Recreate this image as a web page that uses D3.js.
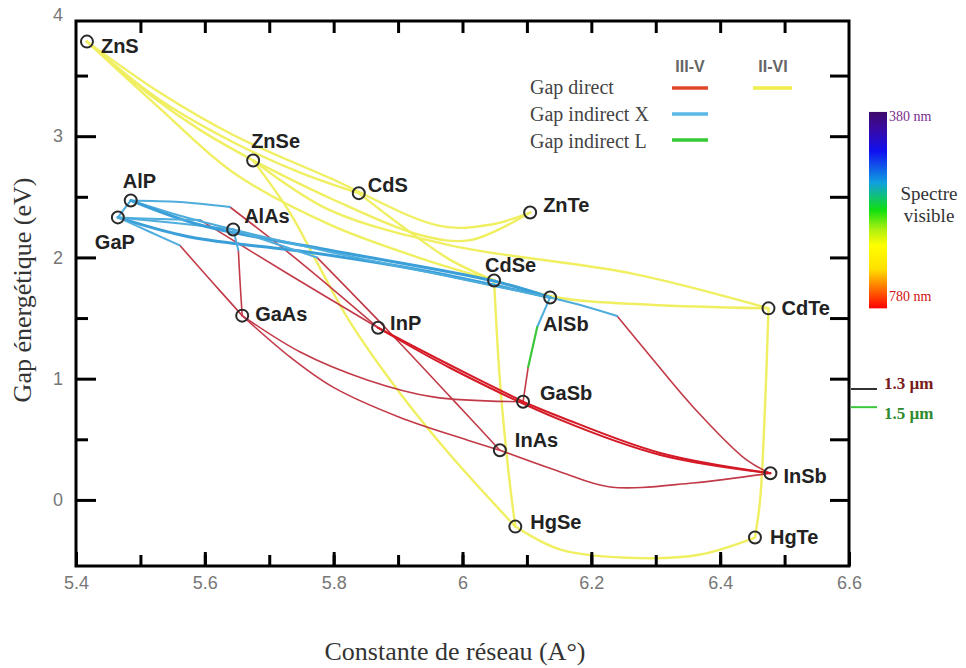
<!DOCTYPE html>
<html>
<head>
<meta charset="utf-8">
<script src="https://cdn.jsdelivr.net/npm/d3@7"></script>
<style>
body { margin: 0; background: #fff; }
</style>
</head>
<body>
<div id="chart"></div>
<script>
// composes : nom, constante de reseau (A), gap (eV)
var compounds = ['ZnS', 'ZnSe', 'CdS', 'ZnTe', 'CdSe', 'AlSb', 'CdTe', 'AlP', 'GaP', 'AlAs', 'GaAs', 'InP', 'GaSb', 'InAs', 'InSb', 'HgSe', 'HgTe'];
var lattice = [5.417, 5.675, 5.839, 6.105, 6.049, 6.136, 6.475, 5.485, 5.465, 5.644, 5.658, 5.869, 6.094, 6.058, 6.478, 6.082, 6.454];
var gap = [3.78, 2.80, 2.53, 2.37, 1.81, 1.67, 1.58, 2.47, 2.33, 2.23, 1.52, 1.42, 0.81, 0.41, 0.22, -0.22, -0.31];

// courbes II-VI (jaune)
var curvesIIVI = [
    [[5.417, 3.78], [5.515, 3.34], [5.593, 3.05], [5.675, 2.80]],
    [[5.417, 3.78], [5.530, 3.36], [5.644, 3.01], [5.794, 2.655], [5.965, 2.26], [6.043, 2.27], [6.105, 2.37]],
    [[5.417, 3.78], [5.530, 3.30], [5.644, 2.95], [5.748, 2.70], [5.839, 2.53]],
    [[5.417, 3.78], [5.530, 3.23], [5.644, 2.70], [5.794, 2.27], [5.934, 1.995], [6.049, 1.81]],
    [[5.675, 2.80], [5.794, 2.49], [5.934, 2.185], [6.012, 2.143], [6.105, 2.37]],
    [[5.675, 2.80], [5.794, 2.39], [5.981, 2.10], [6.260, 1.87], [6.475, 1.58]],
    [[5.839, 2.53], [5.903, 2.27], [5.981, 1.98], [6.049, 1.81]],
    [[6.049, 1.81], [6.152, 1.665], [6.291, 1.61], [6.475, 1.58]],
    [[5.675, 2.80], [5.732, 2.37], [5.779, 1.91], [5.825, 1.47], [5.903, 0.88], [5.981, 0.37], [6.082, -0.22]],
    [[6.049, 1.81], [6.058, 0.99], [6.071, 0.25], [6.082, -0.22]],
    [[6.475, 1.58], [6.470, 0.82], [6.462, 0.0], [6.454, -0.31]],
    [[6.082, -0.22], [6.152, -0.41], [6.276, -0.48], [6.369, -0.45], [6.454, -0.31]]
];

// courbes III-V gap direct (rouge)
var curvesDirect = [
    [[5.639, 2.416], [5.748, 1.962], [5.869, 1.42]],
    [[5.593, 2.308], [5.732, 1.855], [5.869, 1.42]],
    [[5.561, 2.10], [5.611, 1.80], [5.658, 1.52]],
    [[5.652, 2.06], [5.655, 1.77], [5.658, 1.52]],
    [[5.774, 2.00], [5.888, 1.377], [5.981, 0.85], [6.058, 0.41]],
    [[5.658, 1.52], [5.748, 1.22], [5.852, 0.99], [5.954, 0.85], [6.094, 0.81]],
    [[5.658, 1.52], [5.732, 1.18], [5.799, 0.93], [5.903, 0.68], [6.007, 0.495], [6.058, 0.41]],
    [[6.058, 0.41], [6.152, 0.231], [6.229, 0.107], [6.358, 0.14], [6.478, 0.22]],
    [[6.240, 1.517], [6.280, 1.26], [6.358, 0.767], [6.441, 0.33], [6.478, 0.22]],
    [[6.102, 1.096], [6.094, 0.81]],
    [[5.869, 1.42], [5.965, 1.154], [6.094, 0.81]],
    [[6.094, 0.81], [6.152, 0.684], [6.307, 0.387], [6.478, 0.22]],
    [[5.869, 1.42], [5.981, 1.088], [6.152, 0.66], [6.307, 0.371], [6.478, 0.22]]
];
var thickDirect = [10, 11, 12];

// courbes III-V gap indirect X (bleu)
var curvesIndirectX = [
    [[5.485, 2.47], [5.561, 2.457], [5.639, 2.416]],
    [[5.485, 2.47], [5.569, 2.333], [5.644, 2.23]],
    [[5.465, 2.33], [5.554, 2.284], [5.644, 2.23]],
    [[5.465, 2.33], [5.485, 2.47]],
    [[5.485, 2.47], [5.593, 2.267], [5.794, 2.06], [6.049, 1.805], [6.136, 1.67]],
    [[5.465, 2.33], [5.577, 2.168], [5.759, 2.045], [5.934, 1.896], [6.136, 1.67]],
    [[5.644, 2.23], [5.794, 2.045], [5.981, 1.84], [6.136, 1.67]],
    [[5.465, 2.33], [5.530, 2.317], [5.593, 2.308]],
    [[5.465, 2.33], [5.515, 2.21], [5.561, 2.10]],
    [[5.644, 2.23], [5.652, 2.06]],
    [[5.644, 2.23], [5.717, 2.10], [5.774, 2.00]],
    [[6.136, 1.67], [6.183, 1.608], [6.240, 1.517]],
    [[6.136, 1.67], [6.116, 1.426]]
];
var thickIndirectX = [4, 5];

// courbes III-V gap indirect L (vert)
var curvesIndirectL = [
    [[6.116, 1.426], [6.102, 1.096]]
];

// graduations
var xTicksMajor = [5.4, 5.6, 5.8, 6, 6.2, 6.4, 6.6];
var xTicksMinor = [5.5, 5.6, 5.7, 5.8, 5.9, 6, 6.1, 6.2, 6.3, 6.4, 6.5];
var yTicksMajor = [0, 1, 2, 3, 4];
var yTicksMinor = [0.5, 1.5, 2.5, 3.5];
var yTicksRight = [0, 0.5, 1, 1.5, 2, 2.5, 3, 3.5];

// spectre visible et longueurs d'onde telecom
var spectrumLabels = ['380 nm', '780 nm'];
var spectrumGap = [3.2, 1.58];
var telecomLabels = ['1.3 \u00b5m', '1.5 \u00b5m'];
var telecomGap = [0.915, 0.765];

var chart_width = 966;
var chart_height = 668;
var plot_left = 76, plot_right = 849, plot_top = 21, plot_bottom = 566;

// placement des etiquettes (px)
var labelOffset = [[14, 11], [-2, -12], [9, -1], [13, -1], [-9, -8], [-7, 34], [13, 7], [-8, -12], [-23, 32],
    [11, -7], [13, 5], [12, 2], [17, -2], [15, -3], [13, 10], [15, 2], [15, 6]];

var svg = d3.select('#chart')
    .append('svg')
    .attr('width', chart_width)
    .attr('height', chart_height)
    .style('font-family', 'Liberation Sans, Arial, sans-serif');

var x_scale = d3.scaleLinear().domain([5.4, 6.6]).range([plot_left, plot_right]);
var y_scale = d3.scaleLinear().domain([-0.545, 3.95]).range([plot_bottom, plot_top]);

var line = d3.line()
    .x(function (d) { return x_scale(d[0]); })
    .y(function (d) { return y_scale(d[1]); })
    .curve(d3.curveCatmullRom.alpha(0.5));

// Courbes
function drawCurves(data, color, width, thick, thickColor, extra) {
    svg.append('g')
        .selectAll('path')
        .data(data)
        .enter()
        .append('path')
        .attr('d', line)
        .attr('fill', 'none')
        .attr('stroke', function (d, i) { return thick.indexOf(i) >= 0 ? thickColor : color; })
        .attr('stroke-width', function (d, i) { return thick.indexOf(i) >= 0 ? width + extra : width; })
        .attr('stroke-linecap', 'round');
}
drawCurves(curvesIIVI, '#f0ef62', 2.4, [], '#f0ef62', 0);
drawCurves(curvesDirect, '#c23a48', 1.6, thickDirect, '#d41a26', 0.4);
drawCurves(curvesIndirectX, '#4eaddc', 2, thickIndirectX, '#3a9fd8', 1);
drawCurves(curvesIndirectL, '#3cc83c', 2.2, [], '#3cc83c', 0);

// Axes (graduations vers l'interieur)
var tickFont = function (g) {
    g.select('.domain').remove();
    g.selectAll('line').attr('stroke', '#000').attr('stroke-width', 3);
    g.selectAll('text').attr('fill', '#777').style('font-size', '18px').style('font-family', 'Liberation Sans, Arial, sans-serif');
};

svg.append('g').attr('transform', 'translate(0,' + plot_bottom + ')')
    .call(d3.axisBottom(x_scale).tickValues(xTicksMinor).tickSize(-11).tickFormat(''))
    .call(tickFont);
svg.append('g').attr('transform', 'translate(0,' + plot_bottom + ')')
    .call(d3.axisBottom(x_scale).tickValues(xTicksMajor).tickSize(-14).tickPadding(10).tickFormat(d3.format('')))
    .call(tickFont);
svg.append('g').attr('transform', 'translate(0,' + plot_top + ')')
    .call(d3.axisTop(x_scale).tickValues(xTicksMinor).tickSize(-12).tickFormat(''))
    .call(tickFont);
svg.append('g').attr('transform', 'translate(' + plot_left + ',0)')
    .call(d3.axisLeft(y_scale).tickValues(yTicksMinor).tickSize(-12).tickFormat(''))
    .call(tickFont);
var yAxis = svg.append('g').attr('transform', 'translate(' + plot_left + ',0)')
    .call(d3.axisLeft(y_scale).tickValues(yTicksMajor).tickSize(-20).tickPadding(13).tickFormat(d3.format('')))
    .call(tickFont);
yAxis.selectAll('.tick line').filter(function (d) { return d > 3.95; }).remove();
svg.append('g').attr('transform', 'translate(' + plot_right + ',0)')
    .call(d3.axisRight(y_scale).tickValues(yTicksRight).tickSize(-19).tickFormat(''))
    .call(tickFont);

svg.append('rect')
    .attr('x', plot_left).attr('y', plot_top)
    .attr('width', plot_right - plot_left).attr('height', plot_bottom - plot_top)
    .attr('fill', 'none').attr('stroke', '#000').attr('stroke-width', 3);

// Points et etiquettes
svg.selectAll('circle.pt')
    .data(compounds)
    .enter()
    .append('circle')
    .attr('class', 'pt')
    .attr('cx', function (d, i) { return x_scale(lattice[i]); })
    .attr('cy', function (d, i) { return y_scale(gap[i]); })
    .attr('r', 6)
    .attr('fill', 'none')
    .attr('stroke', '#2a2a2a')
    .attr('stroke-width', 2);

svg.selectAll('text.lbl')
    .data(compounds)
    .enter()
    .append('text')
    .attr('class', 'lbl')
    .text(function (d) { return d; })
    .attr('x', function (d, i) { return x_scale(lattice[i]) + labelOffset[i][0]; })
    .attr('y', function (d, i) { return y_scale(gap[i]) + labelOffset[i][1]; })
    .attr('fill', '#222')
    .style('font-size', '20px')
    .style('font-weight', 'bold');

// Legende
var serif = 'Liberation Serif, Times New Roman, serif';
var legendText = ['Gap direct', 'Gap indirect X', 'Gap indirect L'];
var legendColor = ['#e0452b', '#59b8e6', '#35c935'];
svg.selectAll('text.leg')
    .data(legendText)
    .enter()
    .append('text')
    .text(function (d) { return d; })
    .attr('x', 530)
    .attr('y', function (d, i) { return 94 + i * 27; })
    .attr('fill', '#444')
    .style('font-family', serif)
    .style('font-size', '20px');
svg.selectAll('line.leg')
    .data(legendColor)
    .enter()
    .append('line')
    .attr('x1', 672).attr('x2', 708)
    .attr('y1', function (d, i) { return 88 + i * 26; })
    .attr('y2', function (d, i) { return 88 + i * 26; })
    .attr('stroke', function (d) { return d; })
    .attr('stroke-width', 3.5);
svg.append('line').attr('x1', 753).attr('x2', 792).attr('y1', 88).attr('y2', 88)
    .attr('stroke', '#f0ee4a').attr('stroke-width', 3.5);
svg.append('text').text('III-V').attr('x', 690).attr('y', 72).attr('text-anchor', 'middle')
    .attr('fill', '#666').style('font-size', '16px').style('font-weight', 'bold');
svg.append('text').text('II-VI').attr('x', 773).attr('y', 72).attr('text-anchor', 'middle')
    .attr('fill', '#666').style('font-size', '16px').style('font-weight', 'bold');

// Spectre visible
var grad = svg.append('defs').append('linearGradient')
    .attr('id', 'spectre').attr('x1', 0).attr('x2', 0).attr('y1', 0).attr('y2', 1);
[['0', '#3f0a6a'], ['0.08', '#3a0aa0'], ['0.2', '#1010f0'], ['0.36', '#10a0e0'], ['0.5', '#10e010'],
 ['0.6', '#b0f010'], ['0.68', '#ffff00'], ['0.8', '#ffe000'], ['0.9', '#ff7000'], ['1', '#ff0000']]
    .forEach(function (s) {
        grad.append('stop').attr('offset', s[0]).attr('stop-color', s[1]);
    });
svg.append('rect')
    .attr('x', 869).attr('width', 18)
    .attr('y', y_scale(spectrumGap[0]))
    .attr('height', y_scale(spectrumGap[1]) - y_scale(spectrumGap[0]))
    .attr('fill', 'url(#spectre)');
svg.selectAll('text.spec')
    .data(spectrumLabels)
    .enter()
    .append('text')
    .text(function (d) { return d; })
    .attr('x', 889)
    .attr('y', function (d, i) { return y_scale(spectrumGap[i]) + (i === 0 ? 9 : -7); })
    .attr('fill', function (d, i) { return i === 0 ? '#7b2c8f' : '#d01010'; })
    .style('font-family', serif)
    .style('font-size', '14px');
svg.append('text').text('Spectre').attr('x', 929).attr('y', 200).attr('text-anchor', 'middle')
    .attr('fill', '#333').style('font-family', serif).style('font-size', '19px');
svg.append('text').text('visible').attr('x', 929).attr('y', 222).attr('text-anchor', 'middle')
    .attr('fill', '#333').style('font-family', serif).style('font-size', '19px');

// 1.3 / 1.5 um
var telecomColor = ['#333', '#3cc83c'];
var telecomText = ['#7a1c1c', '#2e8b2e'];
svg.selectAll('line.tel')
    .data(telecomLabels)
    .enter()
    .append('line')
    .attr('x1', plot_right + 2).attr('x2', 877)
    .attr('y1', function (d, i) { return y_scale(telecomGap[i]); })
    .attr('y2', function (d, i) { return y_scale(telecomGap[i]); })
    .attr('stroke', function (d, i) { return telecomColor[i]; })
    .attr('stroke-width', 2);
svg.selectAll('text.tel')
    .data(telecomLabels)
    .enter()
    .append('text')
    .text(function (d) { return d; })
    .attr('x', 884)
    .attr('y', function (d, i) { return y_scale(telecomGap[i]) + (i === 0 ? 0 : 12); })
    .attr('fill', function (d, i) { return telecomText[i]; })
    .style('font-family', serif)
    .style('font-size', '17px')
    .style('font-weight', 'bold');

// Titres des axes
svg.append('text')
    .text('Constante de r\u00e9seau (A\u00b0)')
    .attr('x', 455).attr('y', 660)
    .attr('text-anchor', 'middle')
    .attr('fill', '#333')
    .style('font-family', serif)
    .style('font-size', '26px');
svg.append('text')
    .text('Gap \u00e9nerg\u00e9tique (eV)')
    .attr('transform', 'translate(31,290) rotate(-90)')
    .attr('text-anchor', 'middle')
    .attr('fill', '#333')
    .style('font-family', serif)
    .style('font-size', '26px');
</script>
</body>
</html>
